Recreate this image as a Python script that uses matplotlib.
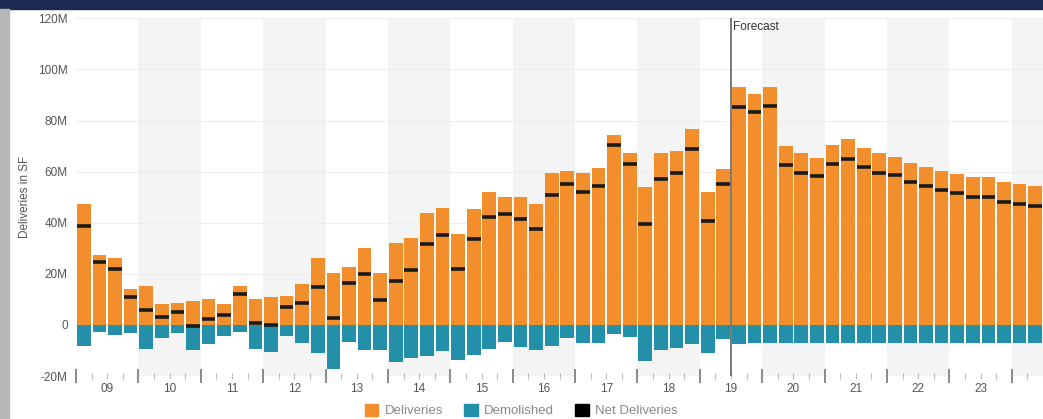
import matplotlib
matplotlib.use("Agg")
import matplotlib.pyplot as plt
from matplotlib.patches import Rectangle, Patch
import numpy as np

plt.rcParams['font.family'] = ['Liberation Sans', 'DejaVu Sans']

# quarterly values, 2009 Q1 .. 2024 Q2 (millions of SF)
years = ['09', '10', '11', '12', '13', '14', '15', '16', '17', '18', '19', '20', '21', '22', '23']
deliveries = [47.4, 27.4, 26.1, 14.2, 15.4, 8.1, 8.7, 9.3, 10.0, 8.1, 15.3, 10.0,
              11.1, 11.5, 15.9, 26.1, 20.2, 22.8, 30.0, 20.2, 32.0, 34.2, 43.7, 45.7,
              35.5, 45.4, 51.9, 50.0, 50.0, 47.4, 59.4, 60.4, 59.4, 61.3, 74.4, 67.2,
              53.8, 67.2, 68.2, 76.7, 51.9, 60.9, 93.0, 90.4, 93.3, 70.2, 67.2, 65.5,
              70.4, 72.7, 69.4, 67.2, 65.9, 63.5, 62.0, 60.4, 59.1, 57.8, 57.8, 56.1,
              55.1, 54.4]
demolished = [-8.2, -2.6, -3.9, -3.0, -9.5, -5.0, -3.3, -9.8, -7.6, -4.3, -2.9, -9.4,
              -10.7, -4.2, -7.2, -11.1, -17.4, -6.5, -10.0, -10.0, -14.7, -13.0, -12.1, -10.4,
              -13.7, -11.7, -9.5, -6.5, -8.7, -9.8, -8.2, -5.2, -7.2, -6.9, -3.5, -4.6,
              -14.1, -10.0, -9.1, -7.6, -11.1, -5.6, -7.4, -6.9, -6.9, -7.2, -7.2, -7.2,
              -7.2, -7.2, -7.2, -7.2, -7.2, -7.2, -7.2, -7.2, -7.2, -7.2, -7.2, -7.2,
              -7.2, -7.2]
net = [38.9, 24.8, 22.0, 11.0, 5.9, 3.1, 5.2, -0.4, 2.2, 3.7, 12.0, 0.7,
       0.0, 7.0, 8.5, 14.7, 2.6, 16.3, 19.8, 9.8, 17.2, 21.3, 31.7, 35.2,
       21.9, 33.7, 42.3, 43.6, 41.4, 37.6, 51.0, 55.3, 52.2, 54.4, 70.4, 62.9,
       39.4, 57.0, 59.4, 68.8, 40.8, 55.2, 85.2, 83.4, 85.7, 62.6, 59.6, 58.1,
       63.0, 65.0, 62.0, 59.6, 58.7, 56.1, 54.4, 52.8, 51.5, 50.2, 50.2, 48.3,
       47.4, 46.6]
forecast_start = 42  # 2019 Q3

orange = '#f28e2b'
teal = '#238fa8'

fig = plt.figure(figsize=(10.43, 4.19), dpi=100)
fig.patch.set_facecolor('white')

# slide frame bits
fig.add_artist(Rectangle((0, 0.978), 1, 0.022, transform=fig.transFigure, color='#1b2a52', zorder=0))
fig.add_artist(Rectangle((0, 0), 0.009, 0.978, transform=fig.transFigure, color='#b4b6b8', zorder=0))

ax = fig.add_axes([0.0729, 0.1026, 0.9271, 0.8537])
n = len(deliveries)
x = np.arange(n)
ax.set_xlim(-0.5, n - 0.5)
ax.set_ylim(-20, 120)

# alternating year shading
for k in range(1, (n + 3) // 4, 2):
    ax.axvspan(4 * k - 0.5, 4 * k + 3.5, color='#f4f4f4', zorder=0, lw=0)

for v in range(-20, 121, 20):
    ax.axhline(v, color='#eeeeee', lw=0.8, zorder=0.5)

ax.bar(x, deliveries, width=0.88, color=orange, zorder=2)
ax.bar(x, demolished, width=0.88, color=teal, zorder=2)
ax.hlines(net, x - 0.44, x + 0.44, color='#1a1a1a', lw=2.6, zorder=3)

ax.axvline(forecast_start - 0.5, color='#555555', lw=1.1, zorder=4)
ax.text(forecast_start - 0.35, 116.5, 'Forecast', fontsize=8.5, color='#333333', va='center', ha='left')

for s in ax.spines.values():
    s.set_visible(False)

ax.set_yticks(range(-20, 121, 20))
ax.set_yticklabels(['-20M', '0', '20M', '40M', '60M', '80M', '100M', '120M'])
ax.tick_params(axis='y', length=0, pad=6, labelsize=8.5, labelcolor='#555555')
ax.set_ylabel('Deliveries in SF', fontsize=8.5, color='#555555', labelpad=5)

ax.set_xticks(np.arange(-0.5, n, 4))
ax.set_xticklabels([])
ax.set_xticks(np.arange(-0.5, n, 1), minor=True)
ax.tick_params(axis='x', which='major', length=10, direction='inout', color='#777777', width=1.2)
ax.tick_params(axis='x', which='minor', length=4, direction='inout', color='#bbbbbb', width=0.8)
for i, yl in enumerate(years):
    ax.text(4 * i + 1.5, -25, yl, ha='center', va='center', fontsize=8.5, color='#555555')

handles = [Patch(color=orange), Patch(color=teal), Patch(color='black')]
fig.legend(handles, ['Deliveries', 'Demolished', 'Net Deliveries'], loc='center',
           bbox_to_anchor=(0.5, 0.02), ncol=3, frameon=False, fontsize=9.5,
           labelcolor='#888888', handlelength=1.0, handleheight=1.0,
           columnspacing=1.6, handletextpad=0.5)

fig.savefig('out.png', dpi=100)
